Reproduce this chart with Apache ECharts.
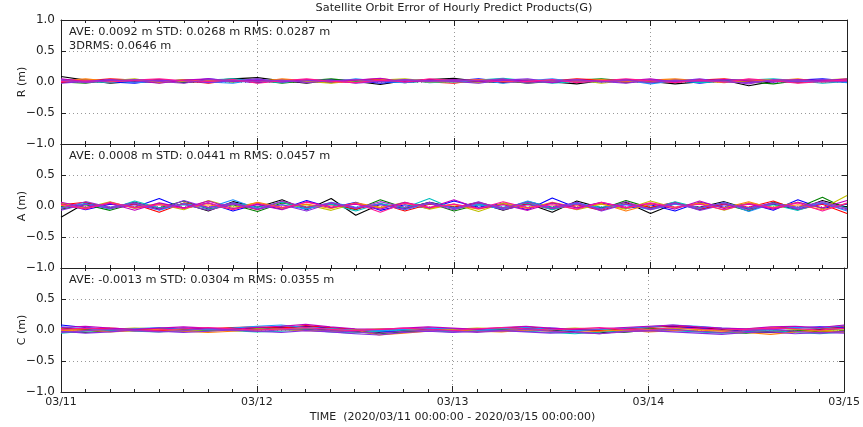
<!DOCTYPE html>
<html>
<head>
<meta charset="utf-8">
<script src="https://cdn.jsdelivr.net/npm/echarts/dist/echarts.min.js"></script>
<style>
  html, body { margin: 0; padding: 0; background: #fff; }
  #main { width: 863px; height: 427px; }
</style>
</head>
<body>
<div id="main"></div>
<script>
// hours since 2020/03/11 00:00, every 3 h
var hours = [0,3,6,9,12,15,18,21,24,27,30,33,36,39,42,45,48,51,54,57,60,63,66,69,72,75,78,81,84,87,90,93,96];
var dayLabels = ['03/11','03/12','03/13','03/14','03/15'];
var prns = ['G01','G02','G03','G05','G07','G10','G13','G18','G14','G15','G20','G24'];

// R component (m)
var rG01 = [0.09,0.03,-0.02,0.01,0.04,-0.01,0.02,0.05,0.07,0.02,-0.02,0.03,0.01,-0.04,0.02,0.04,0.06,0.01,-0.01,0.03,0.00,-0.03,0.02,0.04,0.01,-0.03,0.00,0.03,-0.06,0.01,0.04,0.02,0.03];
var rG02 = [0.02,0.04,0.00,-0.02,0.03,0.01,0.05,0.02,-0.01,0.03,0.00,0.04,0.02,-0.02,0.01,0.03,0.02,0.05,0.01,-0.01,0.03,0.02,0.00,0.04,0.01,0.03,-0.02,0.02,0.04,0.00,0.03,0.05,0.02];
var rG03 = [0.00,-0.02,0.03,0.01,-0.01,0.04,0.02,0.00,0.03,-0.02,0.02,0.05,0.01,0.03,-0.01,0.02,0.04,0.00,0.02,-0.02,0.01,0.03,0.05,0.02,-0.01,0.01,0.04,0.02,0.00,-0.03,0.02,0.01,0.04];
var rG05 = [-0.01,0.02,0.05,0.03,0.00,0.02,-0.02,0.03,0.01,0.04,0.02,-0.01,0.03,0.05,0.02,0.00,-0.02,0.03,0.04,0.01,0.02,0.05,0.03,-0.01,0.02,0.00,0.03,0.05,0.01,0.03,-0.01,0.02,0.00];
var rG07 = [0.03,0.01,-0.01,0.04,0.02,0.00,0.03,0.05,0.02,-0.01,0.04,0.02,0.00,0.02,0.04,-0.01,0.01,0.03,0.06,0.02,-0.02,0.01,0.03,0.00,0.04,0.02,-0.01,0.01,0.03,0.05,0.02,-0.02,0.01];
var rG10 = [0.01,0.03,0.02,0.05,-0.01,0.01,0.03,0.00,0.02,0.04,0.01,-0.02,0.02,0.03,0.05,0.01,0.00,-0.01,0.02,0.04,0.01,0.03,-0.02,0.02,0.00,0.04,0.02,0.00,0.02,0.04,0.01,0.03,0.05];
var rG13 = [0.04,0.00,0.02,-0.01,0.01,0.03,0.00,-0.02,0.04,0.01,0.03,0.00,0.05,0.01,-0.01,0.02,0.00,0.03,-0.02,0.02,0.05,0.00,0.01,0.03,-0.03,0.02,0.01,0.04,0.02,0.01,0.00,0.03,-0.01];
var rG18 = [0.02,0.05,0.01,0.03,0.00,0.04,0.01,0.02,0.00,0.05,0.02,0.01,-0.01,0.02,0.03,0.00,0.02,0.04,0.01,0.00,0.02,0.01,0.04,0.01,0.03,0.05,0.02,-0.01,0.03,0.02,0.05,0.00,0.02];
var rG14 = [0.05,0.01,0.03,0.02,-0.02,0.03,0.05,0.01,0.03,0.00,0.04,0.01,0.03,0.06,0.00,0.02,0.04,0.01,0.03,0.02,-0.01,0.04,0.01,0.02,0.05,0.00,0.02,0.04,0.02,0.00,0.04,0.02,0.05];
var rG15 = [-0.02,0.01,0.04,0.00,0.03,0.02,-0.01,0.02,0.05,0.00,0.02,0.03,-0.02,0.01,0.04,0.02,0.01,-0.02,0.03,0.05,0.00,0.02,0.01,-0.02,0.03,0.01,0.05,0.00,-0.01,0.02,0.01,0.04,0.02];
var rG20 = [0.01,0.02,0.00,0.03,0.05,0.02,0.01,0.04,-0.02,0.02,0.05,0.01,-0.01,0.03,0.00,0.05,0.02,0.03,0.00,0.01,0.04,-0.01,0.02,0.05,0.02,-0.01,0.03,0.00,0.05,0.02,-0.02,0.01,0.03];
var rG24 = [0.03,-0.01,0.02,0.04,0.01,-0.02,0.04,0.02,0.01,0.03,-0.01,0.02,0.04,0.00,0.03,0.01,0.03,0.02,0.05,-0.02,0.02,0.04,0.00,0.03,-0.01,0.03,0.01,0.02,-0.03,0.04,0.03,0.00,0.01];

// A component (m)
var aG01 = [-0.18,0.05,-0.03,0.06,-0.05,0.04,-0.08,0.07,-0.02,0.10,-0.06,0.12,-0.15,0.03,-0.04,0.06,-0.02,0.05,-0.07,0.04,-0.10,0.08,-0.03,0.06,-0.12,0.04,-0.02,0.07,-0.05,0.03,-0.06,0.09,-0.02];
var aG02 = [0.04,-0.06,0.03,-0.02,0.12,-0.04,0.05,-0.08,0.03,-0.05,0.09,-0.03,0.06,-0.07,0.02,-0.04,0.08,-0.02,0.04,-0.06,0.13,-0.03,0.05,-0.04,0.02,-0.08,0.06,-0.02,0.04,-0.07,0.10,-0.04,0.03];
var aG03 = [-0.05,0.02,-0.07,0.04,-0.03,0.08,-0.05,0.02,-0.09,0.05,-0.02,0.04,-0.06,0.10,-0.03,0.05,-0.08,0.02,-0.04,0.07,-0.02,0.04,-0.05,0.09,-0.03,0.05,-0.06,0.03,-0.08,0.06,-0.03,0.14,-0.05];
var aG05 = [0.02,0.06,-0.04,0.03,-0.10,0.05,-0.02,0.04,-0.06,0.07,-0.03,0.02,-0.05,0.04,-0.08,0.03,-0.02,0.06,-0.04,0.03,-0.05,0.02,-0.07,0.04,-0.02,0.06,-0.05,0.03,-0.02,0.08,-0.06,0.03,-0.12];
var aG07 = [-0.02,0.04,-0.05,0.08,-0.03,0.02,-0.06,0.05,-0.02,0.06,-0.04,0.03,-0.08,0.04,-0.03,0.12,-0.05,0.03,-0.02,0.05,-0.06,0.04,-0.02,0.03,-0.05,0.07,-0.03,0.05,-0.04,0.02,-0.07,0.05,-0.03];
var aG10 = [0.05,-0.03,0.07,-0.04,0.03,-0.06,0.09,-0.02,0.05,-0.04,0.02,-0.07,0.04,-0.03,0.06,-0.05,0.03,-0.09,0.05,-0.02,0.04,-0.06,0.03,-0.05,0.08,-0.03,0.04,-0.07,0.05,-0.02,0.06,-0.04,0.17];
var aG13 = [-0.03,0.03,-0.02,0.05,-0.07,0.04,-0.03,0.10,-0.04,0.02,-0.05,0.06,-0.02,0.03,-0.06,0.04,-0.03,0.02,-0.05,0.08,-0.03,0.05,-0.04,0.02,-0.06,0.03,-0.04,0.06,-0.09,0.04,-0.03,0.05,-0.08];
var aG18 = [0.01,-0.04,0.05,-0.02,0.04,-0.03,0.02,-0.05,0.06,-0.02,0.03,-0.04,0.05,-0.02,0.04,-0.03,0.02,-0.05,0.03,-0.04,0.06,-0.02,0.04,-0.08,0.03,-0.02,0.05,-0.03,0.07,-0.04,0.02,-0.06,0.04];
var aG14 = [0.06,-0.02,0.04,-0.07,0.05,-0.03,0.08,-0.04,0.02,-0.06,0.07,-0.02,0.03,-0.05,0.06,-0.03,0.10,-0.04,0.02,-0.07,0.05,-0.03,0.06,-0.02,0.04,-0.05,0.08,-0.04,0.03,-0.05,0.06,-0.03,0.09];
var aG15 = [-0.07,0.03,-0.04,0.02,-0.06,0.09,-0.03,0.05,-0.05,0.02,-0.08,0.05,-0.03,0.02,-0.05,0.06,-0.04,0.07,-0.06,0.02,-0.03,0.06,-0.08,0.03,-0.04,0.05,-0.07,0.02,-0.03,0.05,-0.05,0.04,-0.06];
var aG20 = [0.03,-0.05,0.06,-0.03,0.02,-0.04,0.05,-0.06,0.04,-0.03,0.06,-0.02,0.04,-0.10,0.05,-0.02,0.03,-0.04,0.07,-0.03,0.02,-0.05,0.06,-0.03,0.05,-0.02,0.03,-0.06,0.04,-0.03,0.05,-0.08,0.05];
var aG24 = [-0.04,0.07,-0.02,0.05,-0.04,0.03,-0.07,0.03,-0.05,0.08,-0.02,0.05,-0.04,0.07,-0.02,0.04,-0.06,0.05,-0.03,0.06,-0.04,0.03,-0.05,0.07,-0.06,0.04,-0.03,0.05,-0.06,0.04,-0.02,0.07,-0.04];

// C component (m)
var cG01 = [0.03,0.01,-0.02,0.00,0.02,0.01,-0.01,0.02,0.03,0.05,0.02,0.00,-0.02,-0.04,-0.01,0.01,0.00,-0.02,0.01,0.02,0.00,-0.03,-0.05,0.00,0.02,0.03,0.04,0.01,-0.03,-0.04,-0.02,0.01,0.02];
var cG02 = [0.08,0.04,0.01,-0.01,0.01,0.03,0.02,0.00,0.01,0.04,0.06,0.03,0.01,-0.02,-0.03,0.00,0.02,0.01,-0.01,0.01,0.03,0.01,0.00,0.02,0.05,0.06,0.03,0.00,-0.02,0.01,0.03,0.05,0.04];
var cG03 = [-0.03,-0.04,-0.01,0.01,0.00,-0.02,-0.01,0.01,0.00,0.02,0.01,-0.01,-0.03,-0.06,-0.03,-0.01,0.00,0.01,-0.01,-0.02,0.00,0.01,-0.02,-0.04,0.00,0.01,-0.02,-0.04,-0.05,-0.02,0.00,-0.03,-0.02];
var cG05 = [0.00,0.02,0.03,0.01,-0.01,0.00,0.02,0.04,0.05,0.03,0.07,0.04,0.01,0.00,0.02,0.03,0.01,0.00,0.03,0.05,0.02,0.00,-0.01,0.02,0.04,0.07,0.05,0.02,0.00,0.03,0.05,0.02,0.06];
var cG07 = [-0.05,-0.02,0.00,-0.02,-0.03,-0.01,0.01,-0.01,-0.03,-0.02,0.00,-0.03,-0.05,-0.02,0.00,-0.01,-0.03,-0.01,0.00,-0.02,-0.04,-0.06,-0.03,-0.01,0.01,-0.01,-0.03,-0.05,-0.02,0.00,-0.04,-0.06,-0.03];
var cG10 = [0.02,-0.01,0.01,0.03,0.02,0.00,-0.02,0.00,0.02,0.01,0.03,0.02,0.00,0.02,0.01,-0.01,0.01,0.03,0.02,0.00,0.01,0.03,0.01,-0.02,0.01,0.03,0.01,-0.01,0.02,0.04,0.01,-0.01,0.00];
var cG13 = [0.05,0.02,0.00,0.02,0.04,0.02,0.00,0.03,0.06,0.08,0.04,0.02,0.00,-0.01,0.01,0.03,0.02,0.00,0.02,0.04,0.01,-0.01,0.01,0.03,0.05,0.08,0.06,0.03,0.01,0.02,0.04,0.03,0.07];
var cG18 = [-0.01,0.00,-0.03,-0.01,0.01,-0.02,-0.04,-0.02,0.00,0.01,-0.01,-0.02,0.00,-0.08,-0.05,-0.02,0.00,-0.02,-0.03,0.00,-0.02,-0.04,-0.02,0.00,-0.03,-0.01,0.00,-0.02,-0.04,-0.07,-0.03,-0.01,-0.04];
var cG14 = [0.04,0.06,0.03,0.01,0.03,0.05,0.03,0.01,0.04,0.06,0.09,0.05,0.02,0.01,0.03,0.05,0.03,0.01,0.04,0.06,0.03,0.01,0.02,0.04,0.06,0.08,0.05,0.03,0.02,0.05,0.06,0.04,0.08];
var cG15 = [-0.02,-0.05,-0.03,0.00,-0.02,-0.04,-0.02,0.00,-0.02,-0.04,-0.01,-0.03,-0.06,-0.08,-0.04,-0.02,-0.04,-0.02,-0.01,-0.03,-0.05,-0.03,-0.06,-0.02,-0.01,-0.03,-0.05,-0.07,-0.04,-0.03,-0.06,-0.04,-0.05];
var cG20 = [0.01,0.03,0.01,-0.01,0.00,0.02,0.04,0.02,0.00,0.02,0.04,0.01,-0.01,0.01,0.03,0.01,-0.01,0.02,0.04,0.02,0.00,0.02,0.04,0.01,0.00,0.04,0.02,0.00,0.01,0.03,0.02,0.00,0.03];
var cG24 = [-0.04,-0.01,0.01,-0.01,-0.03,-0.01,0.02,0.00,-0.02,0.00,0.02,-0.01,-0.03,-0.05,-0.02,0.00,-0.02,-0.04,-0.01,0.01,-0.02,-0.04,-0.06,-0.03,-0.01,0.01,-0.02,-0.04,-0.01,0.01,-0.02,-0.05,-0.02];

var rData = [rG01, rG02, rG03, rG05, rG07, rG10, rG13, rG18, rG14, rG15, rG20, rG24];
var aData = [aG01, aG02, aG03, aG05, aG07, aG10, aG13, aG18, aG14, aG15, aG20, aG24];
var cData = [cG01, cG02, cG03, cG05, cG07, cG10, cG13, cG18, cG14, cG15, cG20, cG24];

var panelNames = ['R (m)', 'A (m)', 'C (m)'];
var statTexts = [
    ['AVE: 0.0092 m STD: 0.0268 m RMS: 0.0287 m', '3DRMS: 0.0646 m'],
    ['AVE: 0.0008 m STD: 0.0441 m RMS: 0.0457 m'],
    ['AVE: -0.0013 m STD: 0.0304 m RMS: 0.0355 m']
];

var lineColors = ['#000000', '#0000ff', '#008000', '#ff0000', '#00bfbf', '#bfbf00', '#1e90ff', '#ff7f0e',
                  '#bf00bf', '#8a2be2', '#ff1493', '#9932cc'];
var font = 'DejaVu Sans';
var tickColor = '#222';

var myChart = echarts.init(document.getElementById('main'));

var tops = [20, 144, 268];
var grids = [], xAxes = [], yAxes = [], series = [], titles = [];

titles.push({
    text: 'Satellite Orbit Error of Hourly Predict Products(G)',
    left: 454, top: 3, padding: 0, textAlign: 'center',
    textStyle: { fontFamily: font, fontSize: 11.3, fontWeight: 'normal', color: '#222' }
});

var allData = [rData, aData, cData];
for (var p = 0; p < 3; p++) {
    grids.push({ left: 61, width: 786, top: tops[p], height: 124 });
    var isBottom = (p == 2);
    // bottom x axis
    xAxes.push({
        type: 'value', gridIndex: p, min: 0, max: 96, interval: 24,
        position: 'bottom',
        name: isBottom ? 'TIME  (2020/03/11 00:00:00 - 2020/03/15 00:00:00)' : '',
        nameLocation: 'middle', nameGap: 20,
        nameTextStyle: { fontFamily: font, fontSize: 11, color: '#222' },
        axisLine: { show: true, onZero: false, lineStyle: { color: tickColor, width: 1 } },
        axisTick: { show: true, inside: true, length: 6, lineStyle: { color: tickColor } },
        minorTick: { show: true, splitNumber: 8, length: 3, lineStyle: { color: tickColor } },
        axisLabel: {
            show: isBottom, margin: 5,
            fontFamily: font, fontSize: 11, color: '#222',
            formatter: function (v) { return dayLabels[Math.round(v / 24)]; }
        },
        splitLine: { show: true, lineStyle: { color: '#999', type: [1, 3], width: 1 } }
    });
    // top x axis, ticks only
    xAxes.push({
        type: 'value', gridIndex: p, min: 0, max: 96, interval: 24,
        position: 'top',
        axisLine: { show: true, onZero: false, lineStyle: { color: tickColor, width: 1 } },
        axisTick: { show: true, inside: true, length: 6, lineStyle: { color: tickColor } },
        minorTick: { show: true, splitNumber: 8, length: 3, lineStyle: { color: tickColor } },
        axisLabel: { show: false },
        splitLine: { show: false }
    });
    yAxes.push({
        type: 'value', gridIndex: p, min: -1, max: 1, interval: 0.5,
        position: 'left',
        name: panelNames[p], nameLocation: 'middle', nameGap: 33, nameRotate: 90,
        nameMoveOverlap: false,
        nameTextStyle: { fontFamily: font, fontSize: 11, color: '#222' },
        axisLine: { show: true, onZero: false, lineStyle: { color: tickColor, width: 1 } },
        axisTick: { show: true, inside: true, length: 5, lineStyle: { color: tickColor } },
        axisLabel: {
            show: true, margin: 6, showMaxLabel: p == 0,
            fontFamily: font, fontSize: 12, color: '#222',
            formatter: function (v) { return v.toFixed(1).replace('-', '\u2212'); }
        },
        splitLine: { show: true, lineStyle: { color: '#999', type: [1, 3], width: 1 } }
    });
    yAxes.push({
        type: 'value', gridIndex: p, min: -1, max: 1, interval: 0.5,
        position: 'right',
        axisLine: { show: true, onZero: false, lineStyle: { color: tickColor, width: 1 } },
        axisTick: { show: true, inside: true, length: 5, lineStyle: { color: tickColor } },
        axisLabel: { show: false },
        splitLine: { show: false }
    });

    for (var s = 0; s < prns.length; s++) {
        var d = [];
        for (var i = 0; i < hours.length; i++) d.push([hours[i], allData[p][s][i]]);
        series.push({
            name: prns[s], type: 'line', xAxisIndex: p * 2, yAxisIndex: p * 2,
            data: d, showSymbol: false, symbol: 'none',
            lineStyle: { width: 1.1, color: lineColors[s] },
            itemStyle: { color: lineColors[s] },
            z: 3
        });
    }

    var st = statTexts[p];
    for (var k = 0; k < st.length; k++) {
        titles.push({
            text: st[k], left: 69, top: tops[p] + 7 + k * 14, padding: 0,
            textStyle: { fontFamily: font, fontSize: 11.3, fontWeight: 'normal', color: '#222' }
        });
    }
}

var option = {
    animation: false,
    backgroundColor: '#fff',
    title: titles,
    grid: grids,
    xAxis: xAxes,
    yAxis: yAxes,
    series: series
};
myChart.setOption(option);
</script>
</body>
</html>
